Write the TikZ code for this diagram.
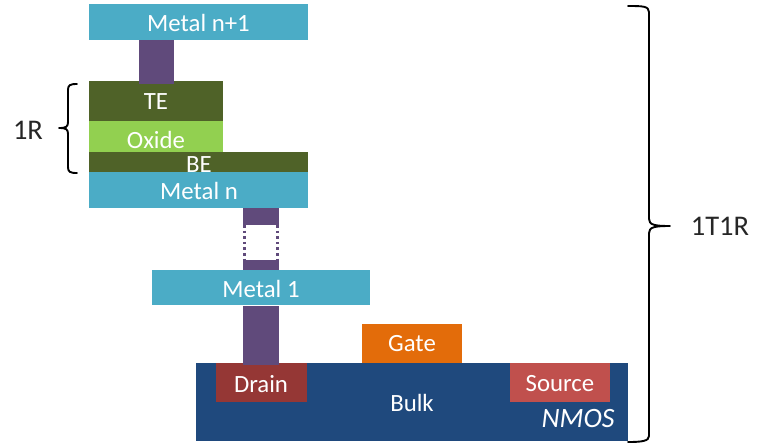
\documentclass[tikz,border=0pt]{standalone}
\usepackage{fontspec}
\setmainfont{Carlito}
\definecolor{metal}{HTML}{4BACC6}
\definecolor{via}{HTML}{604A7B}
\definecolor{elec}{HTML}{4F6228}
\definecolor{oxide}{HTML}{92D050}
\definecolor{bulk}{HTML}{1F497D}
\definecolor{drain}{HTML}{953735}
\definecolor{source}{HTML}{C0504D}
\definecolor{gate}{HTML}{E36C0A}
\tikzset{
  x=1pt,y=-1pt,
  blockbox/.style={draw=none,inner sep=0pt,outer sep=0pt,text=white,font=\fontsize{24.8}{24.8}\selectfont},
  brace/.style={draw=black,line width=1.9pt,line cap=round,line join=round},
  lbl/.style={inner sep=0pt,text=black!85,font=\fontsize{28.5}{28.5}\selectfont}
}
\newcommand{\blk}[6]{% name, x0,y0,x1,y1, colour
  \path[fill=#6] (#2,#3) rectangle (#4,#5);
  \coordinate (#1 nw) at (#2,#3);
  \coordinate (#1 se) at (#4,#5);
  \coordinate (#1 c) at ({(#2+#4)/2},{(#3+#5)/2});
}
\begin{document}
\begin{tikzpicture}
\useasboundingbox (0,0) rectangle (762,444);
% vias
\blk{v1}{139}{40}{174}{84}{via}
\blk{v2}{243}{207}{279}{225}{via}
\blk{v3}{243}{260}{279}{271}{via}
\blk{v4}{243}{306}{279}{365}{via}
% stack
\blk{te}{89}{81}{223}{121}{elec}
\blk{ox}{89}{121}{223}{152}{oxide}
\blk{be}{89}{152}{308}{172}{elec}
\blk{mn}{89}{172}{308}{208}{metal}
\blk{mp}{89}{4}{308}{40}{metal}
\blk{mo}{152}{270}{370}{305}{metal}
% transistor
\blk{bk}{196}{363}{628}{441}{bulk}
\blk{gt}{362}{324}{462}{363}{gate}
\blk{dr}{216}{363}{307}{402}{drain}
\blk{sr}{510}{363}{610}{402}{source}
\fill[via] (243,363) rectangle (279,365);
\fill[via] (139,81) rectangle (174,84);
% texts
\node[blockbox] (tmp) at (198.5,23) {Metal n+1};
\node[blockbox] (tte) at (156,102) {TE};
\node[blockbox] (tox) at (156,140) {Oxide};
\node[blockbox] (tbe) at (199,165) {BE};
\node[blockbox] (tmn) at (199,191) {Metal n};
\node[blockbox] (tmo) at (261,289) {Metal 1};
\node[blockbox] (tgt) at (412,344) {Gate};
\node[blockbox] (tdr) at (261,384) {Drain};
\node[blockbox] (tsr) at (560,384) {Source};
\node[blockbox] (tbk) at (412,403) {Bulk};
\node[blockbox,font=\fontsize{28}{28}\selectfont\itshape] (tnm) at (578,419) {NMOS};
% dotted via
\draw[via,line width=2.2pt,dash pattern=on 2.6pt off 3pt] (v2 nw |- v2 se) ++(1.5,0) -- ++(0,35);
\draw[via,line width=2.2pt,dash pattern=on 2.6pt off 3pt] (v2 se) ++(-1.5,0) -- ++(0,35);
% braces
\coordinate (a1) at (77,84);
\coordinate (a2) at (77,173);
\draw[brace] (a1) .. controls (70,84) and (68,85) .. (68,90) -- (68,122) .. controls (68,127) and (66,128) .. (59,128) .. controls (66,128) and (68,129) .. (68,134) -- (68,167) .. controls (68,172) and (70,173) .. (a2);
\node[lbl] (r1) at (28,130) {1R};
\coordinate (b1) at (628,6);
\coordinate (b2) at (628,442);
\draw[brace] (b1) .. controls (642,6) and (649,6) .. (649,12) -- (649,219) .. controls (649,225) and (655,226) .. (670,226) .. controls (655,226) and (649,227) .. (649,233) -- (649,436) .. controls (649,441) and (642,442) .. (b2);
\node[lbl] (r2) at (720,226) {1T1R};
\end{tikzpicture}
\end{document}
